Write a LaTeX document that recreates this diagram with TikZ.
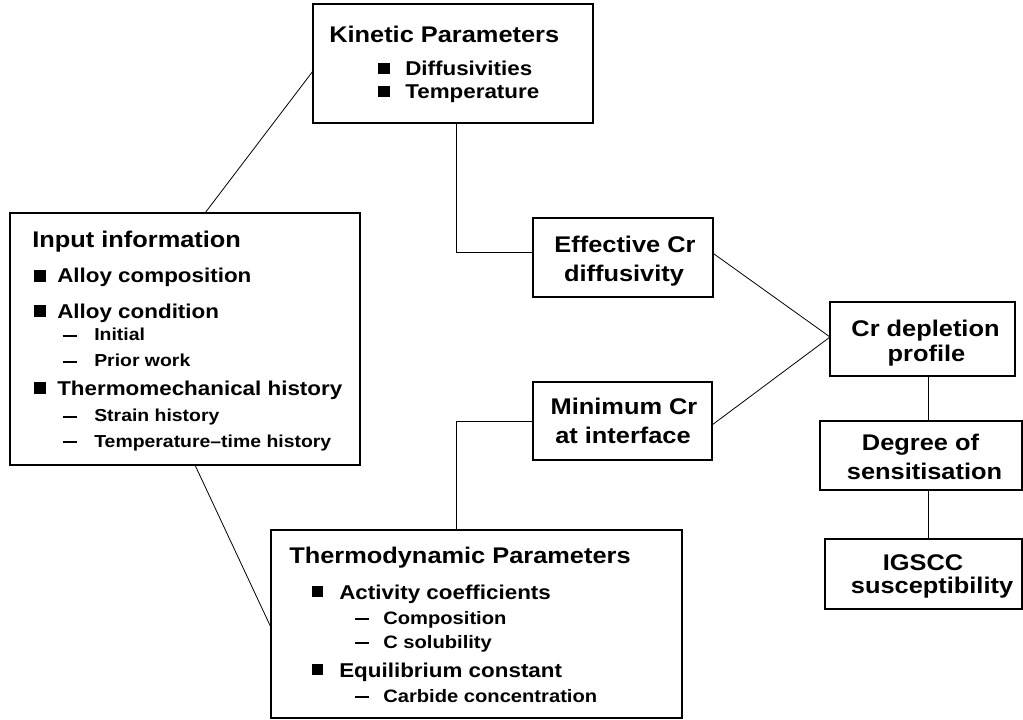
\documentclass[tikz,border=0pt]{standalone}
\usepackage{fontspec}
\setmainfont{Liberation Sans}[FakeStretch=1.12]
\usetikzlibrary{calc}
\newcommand{\sqb}[4]{\makebox[#1][l]{\raisebox{#4}{\rule{#2}{#3}}}}
\newcommand{\dsh}[2]{\makebox[#1][l]{\rule[3pt]{#2}{1.5pt}}}
\tikzset{
  box/.style={draw, line width=1.5pt, inner sep=0pt, outer sep=0pt},
  conn/.style={line width=0.6pt},
  ttl/.style={inner sep=0pt, anchor=base west, font=\fontsize{17pt}{20pt}\selectfont\bfseries},
  ctr/.style={inner sep=0pt, anchor=base, font=\fontsize{17pt}{20pt}\selectfont\bfseries},
  itm/.style={inner sep=0pt, anchor=base west, font=\fontsize{15pt}{18pt}\selectfont\bfseries},
  sbi/.style={inner sep=0pt, anchor=base west, font=\fontsize{13pt}{16pt}\selectfont\bfseries},
  sbt/.style={inner sep=0pt, anchor=base west, font=\fontsize{13.5pt}{16pt}\selectfont\bfseries},
}
\begin{document}
\begin{tikzpicture}[x=0.75pt, y=-0.75pt]
\useasboundingbox (0,0) rectangle (1023,719);
% boxes
\node[box, minimum width=280*0.75pt, minimum height=119*0.75pt] (kin) at (453,63.5) {};
\node[box, minimum width=350*0.75pt, minimum height=252*0.75pt] (inp) at (185,339) {};
\node[box, minimum width=411*0.75pt, minimum height=188*0.75pt] (thm) at (476.5,624) {};
\node[box, minimum width=180*0.75pt, minimum height=79.5*0.75pt] (eff) at (623,257.25) {};
\node[box, minimum width=179*0.75pt, minimum height=78*0.75pt] (mnc) at (622.5,421) {};
\node[box, minimum width=185*0.75pt, minimum height=74*0.75pt] (crd) at (922.5,339) {};
\node[box, minimum width=201.5*0.75pt, minimum height=69*0.75pt] (deg) at (920.75,455.5) {};
\node[box, minimum width=196.5*0.75pt, minimum height=70*0.75pt] (igs) at (923.25,574) {};
% kinetic text
\node[ttl] (k0) at (329,42) {Kinetic Parameters};
\node[itm] (k1) at (378,75) {\sqb{20.25pt}{9pt}{8.25pt}{0.75pt}Diffusivities};
\node[itm] (k2) at (378,98.3) {\sqb{20.25pt}{9pt}{8.25pt}{0.75pt}Temperature};
% input text
\node[ttl] (i0) at (32,247.7) {Input information};
\node[itm] (i1) at (34,282.7) {\sqb{17.25pt}{9pt}{9pt}{0.75pt}Alloy composition};
\node[itm] (i2) at (34,318) {\sqb{17.25pt}{9pt}{9pt}{0.75pt}Alloy condition};
\node[sbi] (i3) at (62.3,340.7) {\dsh{23.8pt}{10.8pt}Initial};
\node[sbi] (i4) at (62.3,366.7) {\dsh{23.8pt}{10.8pt}Prior work};
\node[itm] (i5) at (34,395) {\sqb{17.25pt}{9pt}{9pt}{0.75pt}Thermomechanical history};
\node[sbi] (i6) at (62.3,421.7) {\dsh{23.8pt}{10.8pt}Strain history};
\node[sbi] (i7) at (62.3,447.3) {\dsh{23.8pt}{10.8pt}Temperature--time history};
% thermodynamic text
\node[ttl] (t0) at (289,563) {Thermodynamic Parameters};
\node[itm] (t1) at (311.7,599) {\sqb{20.5pt}{8.6pt}{8.6pt}{1.5pt}Activity coefficients};
\node[sbt] (t2) at (355,624) {\dsh{21pt}{10pt}Composition};
\node[sbt] (t3) at (355,648) {\dsh{21pt}{10pt}C solubility};
\node[itm] (t4) at (311.7,677) {\sqb{20.5pt}{8.6pt}{8.6pt}{1.5pt}Equilibrium constant};
\node[sbt] (t5) at (355,702) {\dsh{21pt}{10pt}Carbide concentration};
% centred boxes text
\node[ctr] (e1) at (625,252.7) {Effective Cr};
\node[ctr] (e2) at (624,281) {diffusivity};
\node[ctr] (m1) at (624,414) {Minimum Cr};
\node[ctr] (m2) at (623,443) {at interface};
\node[ctr] (c1) at (925.5,336.7) {Cr depletion};
\node[ctr] (c2) at (926.5,361) {profile};
\node[ctr] (d1) at (920.5,450.7) {Degree of};
\node[ctr] (d2) at (924.5,479) {sensitisation};
\node[ctr] (g1) at (923,570) {IGSCC};
\node[ctr] (g2) at (932,593.3) {susceptibility};
% connectors
\draw[conn] ($(kin.west)+(0,7.5)$) -- ($(inp.north)+(20,0)$);
\draw[conn] ($(inp.south)+(10,0)$) -- ($(thm.west)+(0,3.5)$);
\draw[conn] ($(kin.south)+(3,0)$) |- ($(eff.west)+(0,-5)$);
\draw[conn] ($(thm.north)+(-20.5,0)$) |- (mnc.west);
\draw[conn] ($(eff.east)+(0,-4)$) -- ($(crd.west)+(0,-2)$);
\draw[conn] ($(mnc.east)+(0,4)$) -- ($(crd.west)+(0,-2)$);
\draw[conn] ($(crd.south)+(5.5,0)$) -- ($(deg.north)+(7.25,0)$);
\draw[conn] ($(deg.south)+(7.25,0)$) -- ($(igs.north)+(4.75,0)$);
\end{tikzpicture}
\end{document}
